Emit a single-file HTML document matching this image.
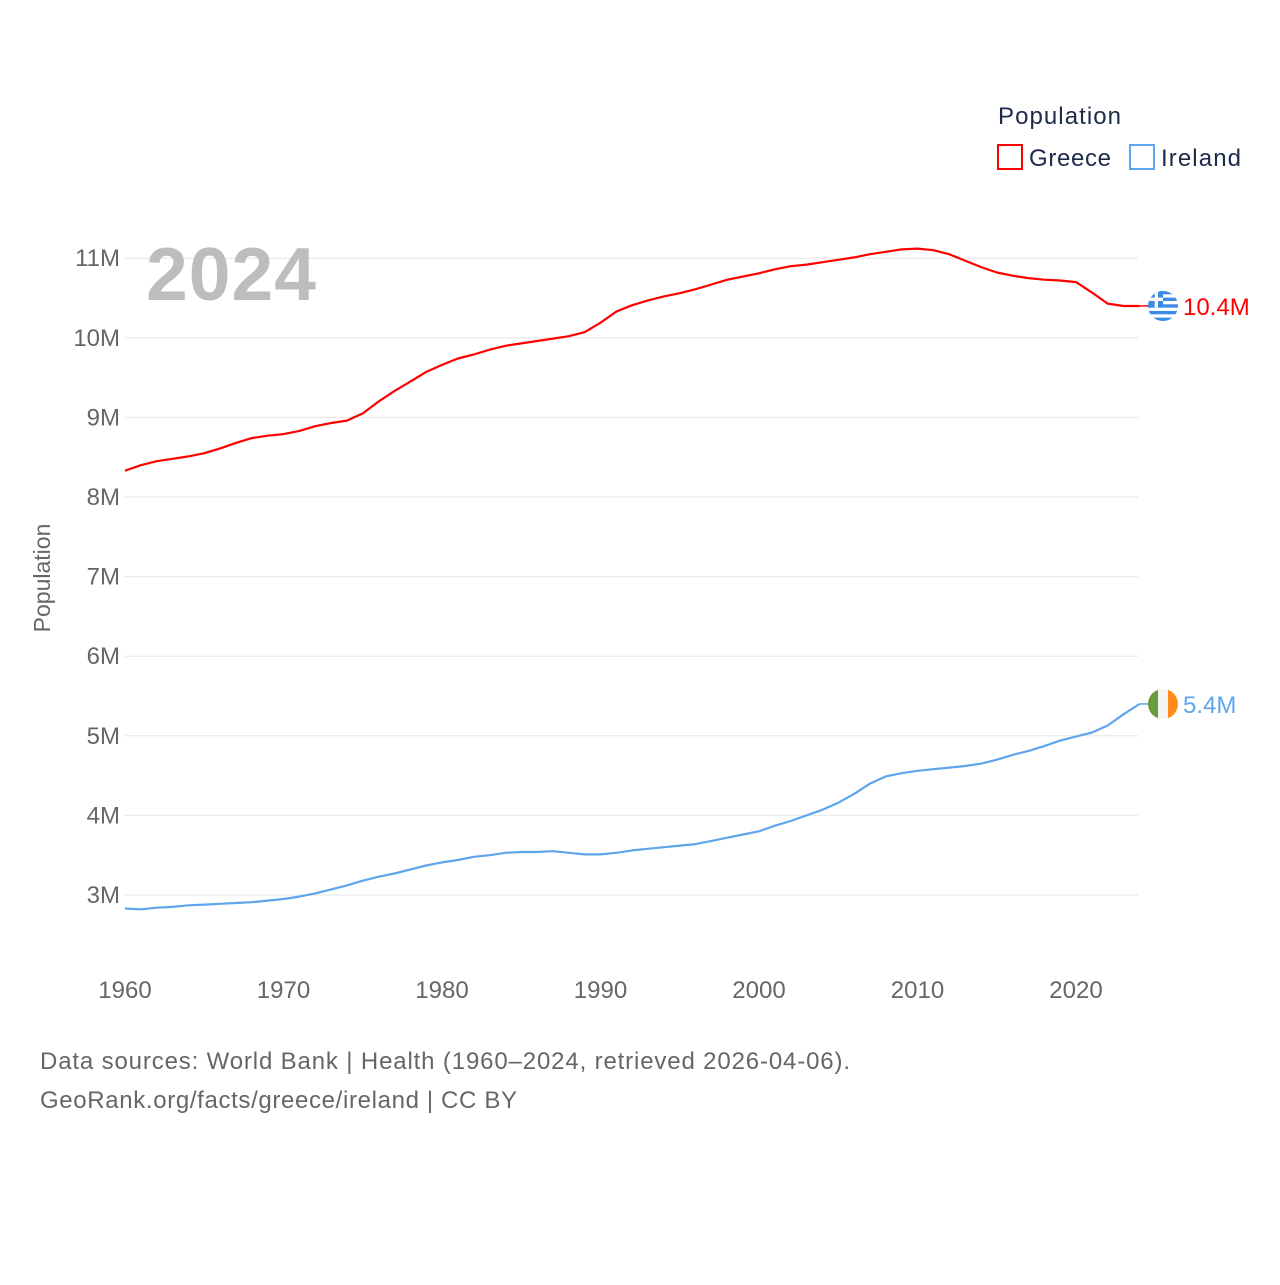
<!DOCTYPE html>
<html><head><meta charset="utf-8"><style>
body{margin:0;background:#fff;font-family:"Liberation Sans",sans-serif}
svg text{font-family:"Liberation Sans",sans-serif}
</style></head><body>
<svg id="c" width="1280" height="1280">
<g id="grid"></g>
<g id="yticks"></g>
<g id="xticks"></g>
<text x="231" y="300" text-anchor="middle" font-size="75" font-weight="bold" fill="#bdbdbd" textLength="170">2024</text>
<text transform="translate(50,578) rotate(-90)" text-anchor="middle" font-size="23" fill="#666">Population</text>
<g id="series"></g>
<g>
<text x="998" y="124" font-size="24" fill="#1c2b4a" textLength="123">Population</text>
<g><rect x="998" y="145" width="24" height="24" fill="none" stroke="#ff0000" stroke-width="2"/><text x="1029" y="166" font-size="24" fill="#1c2b4a" textLength="82">Greece</text></g>
<g><rect x="1130" y="145" width="24" height="24" fill="none" stroke="#5ea5ec" stroke-width="2"/><text x="1161" y="166" font-size="24" fill="#1c2b4a" textLength="80">Ireland</text></g>
</g>
<text x="40" y="1069" font-size="24" fill="#666" textLength="810">Data sources: World Bank | Health (1960–2024, retrieved 2026-04-06).</text>
<text x="40" y="1108" font-size="24" fill="#666" textLength="477">GeoRank.org/facts/greece/ireland | CC BY</text>
</svg>
<script>
const years=[];for(let y=1960;y<=2024;y++)years.push(y);
const greece=[8.33,8.40,8.45,8.48,8.51,8.55,8.61,8.68,8.74,8.77,8.79,8.83,8.89,8.93,8.96,9.05,9.20,9.33,9.45,9.57,9.66,9.74,9.79,9.85,9.90,9.93,9.96,9.99,10.02,10.07,10.19,10.33,10.41,10.47,10.52,10.56,10.61,10.67,10.73,10.77,10.81,10.86,10.90,10.92,10.95,10.98,11.01,11.05,11.08,11.11,11.12,11.10,11.05,10.97,10.89,10.82,10.78,10.75,10.73,10.72,10.70,10.57,10.43,10.40,10.40];
const ireland=[2.83,2.82,2.84,2.85,2.87,2.88,2.89,2.90,2.91,2.93,2.95,2.98,3.02,3.07,3.12,3.18,3.23,3.27,3.32,3.37,3.41,3.44,3.48,3.50,3.53,3.54,3.54,3.55,3.53,3.51,3.51,3.53,3.56,3.58,3.60,3.62,3.64,3.68,3.72,3.76,3.80,3.87,3.93,4.00,4.07,4.16,4.27,4.40,4.49,4.53,4.56,4.58,4.60,4.62,4.65,4.70,4.76,4.81,4.87,4.94,4.99,5.04,5.13,5.27,5.40];
const yTicks=[3,4,5,6,7,8,9,10,11];
const xTicks=[1960,1970,1980,1990,2000,2010,2020];
const X=y=>125+(y-1960)*951/60;
const Y=v=>895-(v-3)*79.6;
const NS="http://www.w3.org/2000/svg";
function mk(t,p,a){const e=document.createElementNS(NS,t);for(const k in a)e.setAttribute(k,a[k]);p.appendChild(e);return e;}
const grid=document.getElementById('grid'),yt=document.getElementById('yticks'),xt=document.getElementById('xticks'),s=document.getElementById('series');
yTicks.forEach(v=>{
 const l=mk('line',grid,{x1:125,x2:1138,y1:Y(v),y2:Y(v),stroke:'#e6e6e6','stroke-width':1});
 
 
 const t=mk('text',yt,{x:120,y:Y(v)+8,'text-anchor':'end','font-size':24,fill:'#666'});t.textContent=v+'M';
 
 
});
xTicks.forEach(v=>{
 const t=mk('text',xt,{x:X(v),y:998,'text-anchor':'middle','font-size':24,fill:'#666'});t.textContent=v;
 
 
});
function line(data,color,name){
 const d=data.map((v,i)=>(i?'L':'M')+X(years[i]).toFixed(1)+','+Y(v).toFixed(1)).join('');
 const p=mk('path',s,{d:d,fill:'none',stroke:color,'stroke-width':2.2,'stroke-linejoin':'round'});
 
 
}
line(greece,'#ff0000','greece-line');
line(ireland,'#5ea5ec','ireland-line');
function endLabel(v,color,name,flag){
 const y=Y(v),x0=X(2024);
 mk('line',s,{x1:x0,x2:x0+12,y1:y,y2:y,stroke:color,'stroke-width':1.5});
 const g=mk('g',s,{});
 
 
 const cx=1163,r=15;
 const cp=mk('clipPath',g,{id:name+'cp'});
 mk('circle',cp,{cx:cx,cy:y,r:r});
 const inner=mk('g',g,{'clip-path':'url(#'+name+'cp)'});
 if(flag==='gr'){
  mk('rect',inner,{x:cx-r,y:y-r,width:2*r,height:2*r,fill:'#fff'});
  for(let i=0;i<9;i+=2)mk('rect',inner,{x:cx-r,y:y-r+i*2*r/9,width:2*r,height:2*r/9,fill:'#3a8ae6'});
  mk('rect',inner,{x:cx-r,y:y-r,width:r,height:r*10/9,fill:'#3a8ae6'});
  mk('rect',inner,{x:cx-r,y:y-r+r*4/9,width:r,height:r*2/9,fill:'#fff'});
  mk('rect',inner,{x:cx-r+r*4/9,y:y-r,width:r*2/9,height:r*10/9,fill:'#fff'});
 }else{
  mk('rect',inner,{x:cx-r,y:y-r,width:2*r/3,height:2*r,fill:'#6a9b3f'});
  mk('rect',inner,{x:cx-r/3,y:y-r,width:2*r/3,height:2*r,fill:'#f4f4f4'});
  mk('rect',inner,{x:cx+r/3,y:y-r,width:2*r/3,height:2*r,fill:'#ff8c1a'});
 }
 const t=mk('text',s,{x:1183,y:y+9,'font-size':24,fill:color});t.textContent=v.toFixed(1)+'M';
 
 
}
endLabel(greece[greece.length-1],'#ff0000','greece','gr');
endLabel(ireland[ireland.length-1],'#5ea5ec','ireland','ie');
</script>
</body></html>
